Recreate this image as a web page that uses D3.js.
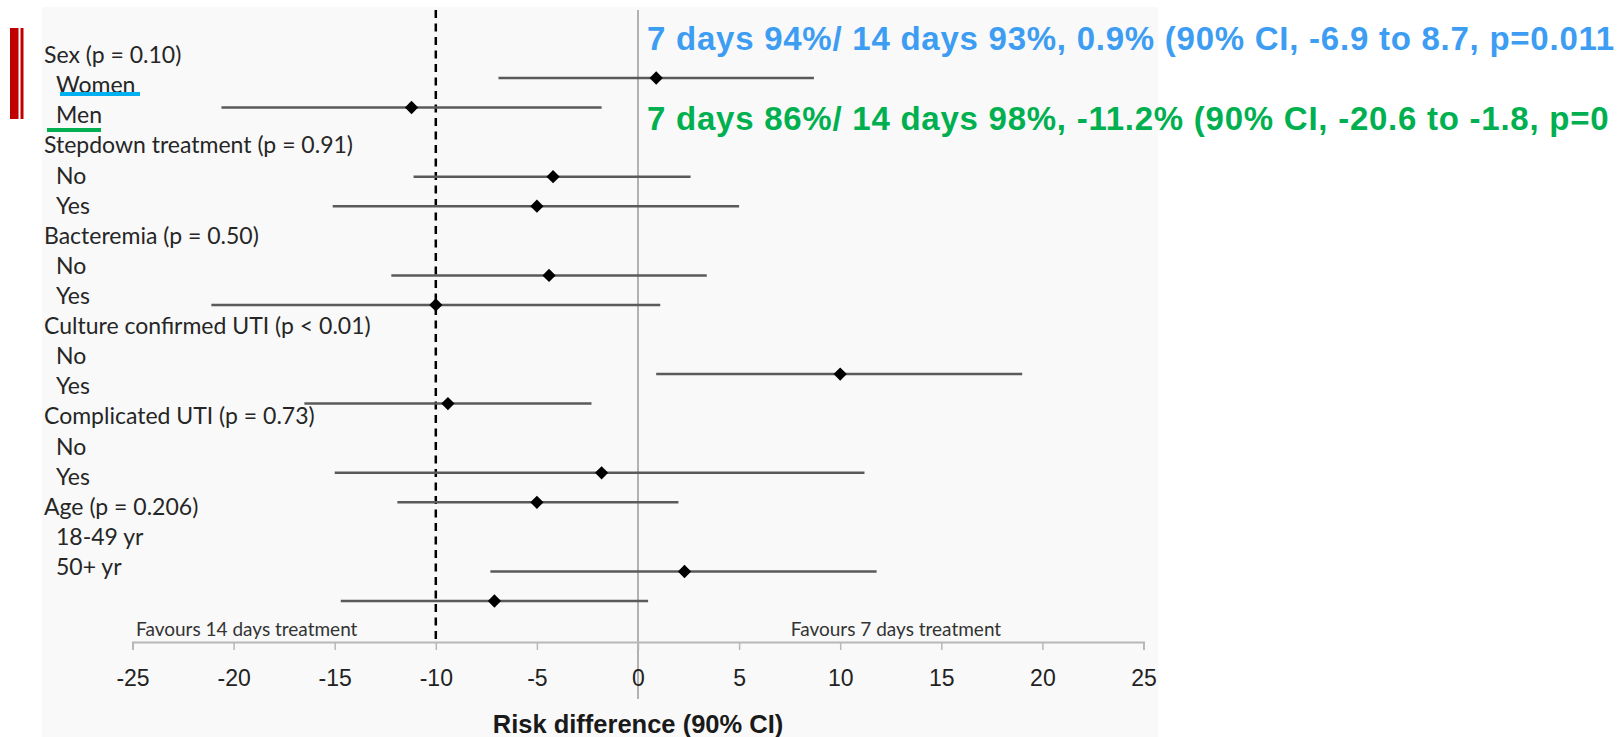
<!DOCTYPE html>
<html lang="en">

<head>
    <meta charset="UTF-8">
    <title>Forest plot - risk difference</title>
    <script src="https://d3js.org/d3.v7.min.js"></script>
    <style>
        body { margin: 0; background: #fff; }
    </style>
</head>

<body>
    <svg id="forest" width="1623" height="737"></svg>

    <script>
        // Subgroups and the risk differences
        const groups = [
            "Sex (p = 0.10)",
            "Stepdown treatment (p = 0.91)",
            "Bacteremia (p = 0.50)",
            "Culture confirmed UTI (p < 0.01)",
            "Complicated UTI (p = 0.73)",
            "Age (p = 0.206)"
        ];
        const subgroups = [
            ["Women", "Men"],
            ["No", "Yes"],
            ["No", "Yes"],
            ["No", "Yes"],
            ["No", "Yes"],
            ["18-49 yr", "50+ yr"]
        ];
        const estimate = [0.9, -11.2, -4.2, -5.0, -4.4, -10.0, 10.0, -9.4, -1.8, -5.0, 2.3, -7.1];
        const lower = [-6.9, -20.6, -11.1, -15.1, -12.2, -21.1, 0.9, -16.5, -15.0, -11.9, -7.3, -14.7];
        const upper = [8.7, -1.8, 2.6, 5.0, 3.4, 1.1, 19.0, -2.3, 11.2, 2.0, 11.8, 0.5];

        const xTicks = [-25, -20, -15, -10, -5, 0, 5, 10, 15, 20, 25];
        const margin = -10; // non-inferiority margin

        // callouts (only the part visible in the slide)
        const notes = [
            "7 days 94%/ 14 days 93%, 0.9% (90% CI, -6.9 to 8.7, p=0.011",
            "7 days 86%/ 14 days 98%, -11.2% (90% CI, -20.6 to -1.8, p=0"
        ];

        const svg = d3.select("#forest");

        // pasted figure panel
        svg.append("rect")
            .attr("x", 42).attr("y", 7)
            .attr("width", 1116).attr("height", 730)
            .attr("fill", "#f9f9f9");

        // red marker bars on the left
        svg.append("rect").attr("x", 10).attr("y", 28).attr("width", 8.5).attr("height", 91).attr("fill", "#c00000");
        svg.append("rect").attr("x", 20.5).attr("y", 28).attr("width", 3).attr("height", 91).attr("fill", "#c00000");

        // scales
        const x = d3.scaleLinear().domain([-25, 25]).range([132.5, 1143.5]);
        const axisY = 642;

        const labelRows = [];
        groups.forEach((g, i) => {
            labelRows.push({ text: g, indent: false });
            subgroups[i].forEach(s => labelRows.push({ text: s, indent: true }));
        });
        const yLabel = d3.scalePoint().domain(d3.range(labelRows.length)).range([55, 567]);

        // the plotted rows sit on their own grid in the original figure
        const yGroup = d3.scalePoint().domain(groups).range([78, 571.5]);
        const yItem = d3.scalePoint().domain([0, 1]).range([0, 29.5]);

        const rows = [];
        groups.forEach((g, i) => {
            subgroups[i].forEach((s, j) => {
                const k = rows.length;
                rows.push({ group: g, item: j, est: estimate[k], lo: lower[k], hi: upper[k] });
            });
        });

        // zero line and margin line
        svg.append("line")
            .attr("x1", x(0)).attr("x2", x(0))
            .attr("y1", 10).attr("y2", 699)
            .attr("stroke", "#9a9a9a").attr("stroke-width", 1.5);

        svg.append("line")
            .attr("x1", x(margin)).attr("x2", x(margin))
            .attr("y1", 10).attr("y2", axisY)
            .attr("stroke", "#000").attr("stroke-width", 2.5)
            .attr("stroke-dasharray", "8,5.5");

        // x axis
        const axis = svg.append("g")
            .attr("transform", `translate(0,${axisY})`)
            .call(d3.axisBottom(x).tickValues(xTicks).tickSize(8).tickPadding(20).tickFormat(d => String(d)));
        axis.select(".domain").attr("stroke", "#b8b8b8").attr("stroke-width", 2);
        axis.selectAll(".tick line").attr("stroke", "#b8b8b8").attr("stroke-width", 1.5);
        axis.selectAll(".tick text")
            .attr("fill", "#222")
            .style("font-family", "'Liberation Sans', Arial, sans-serif")
            .style("font-size", "23px");

        svg.append("text")
            .attr("x", x(0)).attr("y", 724)
            .attr("dy", "0.35em")
            .attr("text-anchor", "middle")
            .attr("fill", "#1a1a1a")
            .style("font-family", "'Liberation Sans', Arial, sans-serif")
            .style("font-size", "25.5px")
            .style("font-weight", "bold")
            .text("Risk difference (90% CI)");

        svg.append("text")
            .attr("x", 136).attr("y", 629).attr("dy", "0.35em")
            .attr("fill", "#333")
            .style("font-family", "Lato, sans-serif")
            .style("font-size", "19px")
            .text("Favours 14 days treatment");
        svg.append("text")
            .attr("x", 896).attr("y", 629).attr("dy", "0.35em")
            .attr("text-anchor", "middle")
            .attr("fill", "#333")
            .style("font-family", "Lato, sans-serif")
            .style("font-size", "19px")
            .text("Favours 7 days treatment");

        // row labels
        svg.append("g").selectAll("text")
            .data(labelRows)
            .join("text")
            .attr("x", d => d.indent ? 56 : 44)
            .attr("y", (d, i) => yLabel(i))
            .attr("dy", "0.35em")
            .attr("fill", "#262626")
            .style("font-family", "Lato, sans-serif")
            .style("font-size", "23px")
            .text(d => d.text);

        // confidence intervals
        const rowY = d => yGroup(d.group) + yItem(d.item);
        svg.append("g").selectAll("line")
            .data(rows)
            .join("line")
            .attr("x1", d => x(d.lo)).attr("x2", d => x(d.hi))
            .attr("y1", rowY).attr("y2", rowY)
            .attr("stroke", "#5a5a5a").attr("stroke-width", 2.5);

        // point estimates
        svg.append("g").selectAll("path")
            .data(rows)
            .join("path")
            .attr("d", d3.symbol().type(d3.symbolSquare).size(88))
            .attr("transform", d => `translate(${x(d.est)},${rowY(d)}) rotate(45)`)
            .attr("fill", "#000");

        // annotations
        const noteColors = ["#3d9df3", "#00b050"];
        const noteY = [50, 130];
        svg.append("g").selectAll("text")
            .data(notes)
            .join("text")
            .attr("x", 647)
            .attr("y", (d, i) => noteY[i])
            .attr("fill", (d, i) => noteColors[i])
            .style("font-family", "'Liberation Sans', Arial, sans-serif")
            .style("font-size", "33px")
            .style("font-weight", "bold")
            .style("letter-spacing", "0.75px")
            .text(d => d);

        // underlines under Women / Men
        svg.append("line").attr("x1", 60).attr("x2", 140).attr("y1", 94).attr("y2", 94)
            .attr("stroke", "#00b0f0").attr("stroke-width", 4);
        svg.append("line").attr("x1", 47).attr("x2", 101).attr("y1", 130).attr("y2", 130)
            .attr("stroke", "#00b050").attr("stroke-width", 4);
    </script>
</body>

</html>
